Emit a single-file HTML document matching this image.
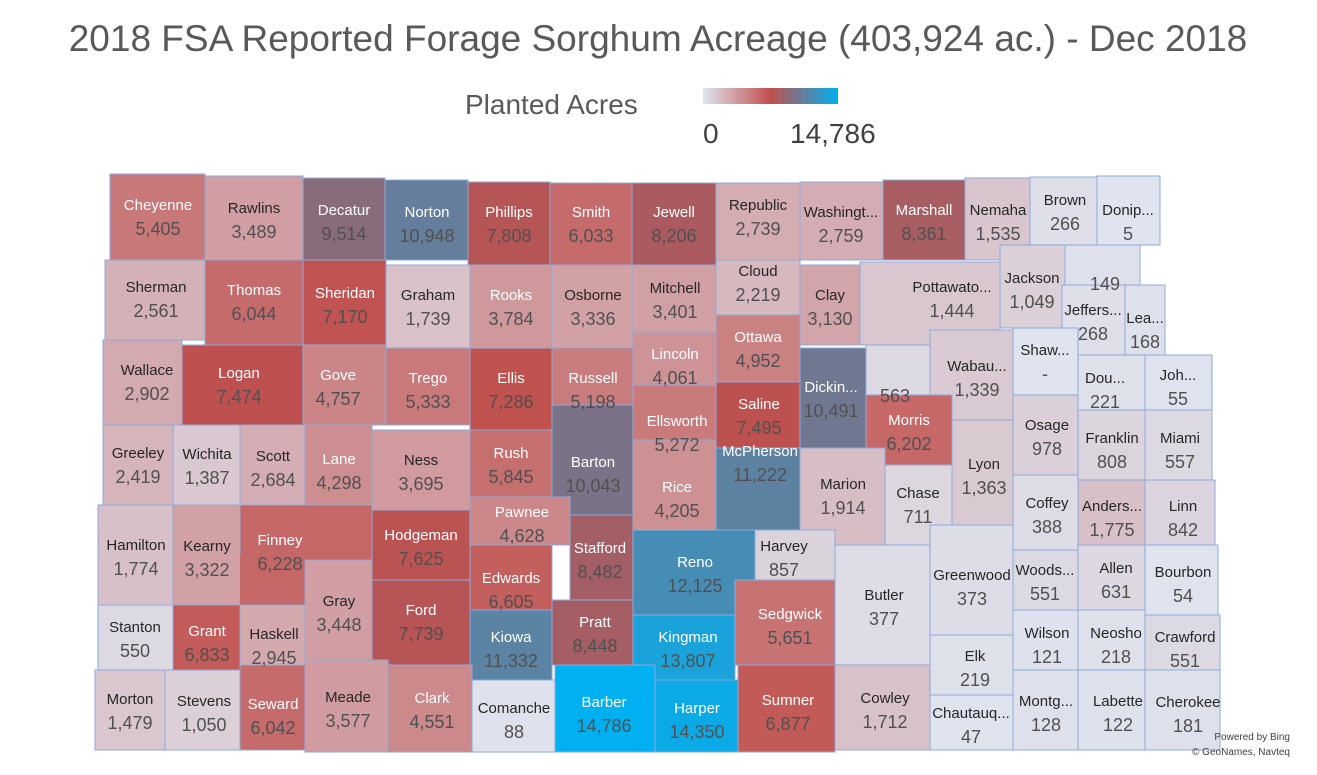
<!DOCTYPE html><html><head><meta charset="utf-8"><style>
body{margin:0;background:#fff;width:1317px;height:770px;overflow:hidden;font-family:"Liberation Sans",sans-serif}
</style></head><body>
<svg id="s" width="1317" height="770" xmlns="http://www.w3.org/2000/svg" font-family="Liberation Sans, sans-serif">
<defs><linearGradient id="g"><stop offset="0" stop-color="#dfe4ef"/><stop offset="0.5" stop-color="#c0504d"/><stop offset="1" stop-color="#00b0f0"/></linearGradient></defs>
<text x="658" y="51" font-size="37" fill="#595959" text-anchor="middle">2018 FSA Reported Forage Sorghum Acreage (403,924 ac.) - Dec 2018</text>
<text x="465" y="114" font-size="28" fill="#595959">Planted Acres</text>
<rect x="703" y="88" width="135" height="16" fill="url(#g)"/>
<text x="703" y="143" font-size="28" fill="#404040">0</text>
<text x="790" y="143" font-size="28" fill="#404040">14,786</text>
<g id="m"></g>
<text x="1290" y="740" font-size="10" fill="#404040" text-anchor="end">Powered by Bing</text>
<text x="1290" y="755" font-size="10" fill="#404040" text-anchor="end">© GeoNames, Navteq</text>
</svg>
<script>
var D=[
["Cheyenne",5405,110,174,205,260,158,205],["Rawlins",3489,205,176,303,260,254,208],["Decatur",9514,303,178,385,260,344,210],["Norton",10948,385,180,468,260,427,212],["Phillips",7808,468,182,550,265,509,212],["Smith",6033,550,183,632,265,591,212],["Jewell",8206,632,183,716,265,674,212],["Republic",2739,716,183,800,260,758,205],["Washingt...",2759,800,182,883,260,841,212],["Marshall",8361,883,180,965,260,924,210],["Nemaha",1535,965,178,1030,260,998,210],["Brown",266,1030,177,1097,245,1065,200],["Donip...",5,1097,176,1160,245,1128,210],
["Sherman",2561,105,260,205,340,156,287],["Thomas",6044,205,260,303,345,254,290],["Sheridan",7170,303,260,386,347,345,293],["Graham",1739,386,265,470,348,428,295],["Rooks",3784,470,265,552,348,511,295],["Osborne",3336,552,265,633,348,593,295],["Mitchell",3401,633,265,716,332,675,288],["Cloud",2219,716,260,800,315,758,271],["Clay",3130,800,265,860,345,830,295],["Ottawa",4952,716,315,800,382,758,337],["Pottawato...",1444,860,262,1000,345,952,287],["Jackson",1049,1000,245,1065,328,1032,278],["",149,1065,245,1140,285,1105,260],["Jeffers...",268,1062,285,1125,358,1093,310],["Lea...",168,1125,285,1165,358,1145,318],
["Wallace",2902,103,340,182,425,147,370],["Logan",7474,182,345,303,425,239,373],["Gove",4757,303,345,386,425,338,375],["Trego",5333,386,348,470,425,428,378],["Ellis",7286,470,348,552,430,511,378],["Russell",5198,552,348,633,405,593,378],["Lincoln",4061,633,332,716,385,675,354],["Ellsworth",5272,633,385,716,440,677,421],["Saline",7495,716,382,800,448,759,404],["Dickin...",10491,800,348,866,448,831,387],["",563,866,345,930,395,895,372],["Wabau...",1339,930,330,1013,420,977,366],["Shaw...",0,1013,328,1078,395,1045,350],["Dou...",221,1078,355,1145,410,1105,378],["Joh...",55,1145,355,1212,410,1178,375],["Morris",6202,866,395,952,465,909,420],
["Greeley",2419,103,425,173,505,138,453],["Wichita",1387,173,425,240,505,207,454],["Scott",2684,240,425,305,505,273,456],["Lane",4298,305,425,372,505,339,459],["Ness",3695,372,430,470,510,421,460],["Rush",5845,470,430,552,497,511,453],["Barton",10043,552,405,633,515,593,462],["Rice",4205,633,440,716,530,677,487],["McPherson",11222,716,448,800,530,760,451],["Marion",1914,800,448,885,545,843,484],["Chase",711,885,465,952,545,918,493],["Lyon",1363,952,420,1013,530,984,464],["Osage",978,1013,395,1078,475,1047,425],["Franklin",808,1078,410,1145,480,1112,438],["Miami",557,1145,410,1212,480,1180,438],
["Hamilton",1774,98,505,173,605,136,545],["Kearny",3322,173,505,240,605,207,546],["Finney",6228,240,505,372,560,280,540],["",6228,240,555,305,606,0,-99],["Hodgeman",7625,372,510,470,580,421,535],["Pawnee",4628,470,497,570,545,522,512],["Stafford",8482,570,515,633,600,600,548],["Edwards",6605,470,545,552,610,511,578],["Reno",12125,633,530,755,615,695,562],["Harvey",857,755,530,835,580,784,546],["Butler",377,835,545,930,665,884,595],["Greenwood",373,930,525,1013,635,972,575],["Coffey",388,1013,475,1078,550,1047,503],["Anders...",1775,1078,480,1145,545,1112,506],["Linn",842,1145,480,1215,545,1183,506],["Gray",3448,305,560,372,660,339,601],["Ford",7739,372,580,470,665,421,610],
["Stanton",550,98,605,173,670,135,627],["Grant",6833,173,605,240,670,207,631],["Haskell",2945,240,605,305,665,274,634],["Kiowa",11332,470,610,552,680,511,637],["Pratt",8448,552,600,633,665,595,622],["Kingman",13807,633,615,735,680,688,637],["Sedgwick",5651,735,580,835,665,790,614],["Woods...",551,1013,550,1078,610,1045,570],["Allen",631,1078,545,1145,610,1116,568],["Bourbon",54,1145,545,1218,615,1183,572],["Elk",219,930,635,1013,695,975,656],["Wilson",121,1013,610,1078,670,1047,633],["Neosho",218,1078,610,1145,670,1116,633],["Crawford",551,1145,615,1220,670,1185,637],
["Morton",1479,95,670,165,750,130,699],["Stevens",1050,165,670,240,750,204,701],["Seward",6042,240,665,305,750,273,704],["Meade",3577,305,660,388,752,348,697],["Clark",4551,388,665,472,752,432,698],["Comanche",88,472,680,555,752,514,708],["Barber",14786,555,665,655,752,604,702],["Harper",14350,655,680,738,752,697,708],["Sumner",6877,738,665,835,752,788,700],["Cowley",1712,835,665,930,750,885,698],["Chautauq...",47,930,695,1013,750,971,713],["Montg...",128,1013,670,1078,750,1046,701],["Labette",122,1078,670,1145,750,1118,701],["Cherokee",181,1145,670,1220,750,1188,702]];
function c(v){var a=[223,228,239],m=[192,80,77],b=[0,176,240],t=v/14786,p,q,u;if(t<.5){p=a;q=m;u=t*2}else{p=m;q=b;u=(t-.5)*2}
return "rgb("+p.map(function(x,i){return Math.round(x+(q[i]-x)*u)}).join(",")+")"}
var h="";D.forEach(function(d){h+='<rect x="'+d[2]+'" y="'+d[3]+'" width="'+(d[4]-d[2])+'" height="'+(d[5]-d[3])+'" fill="'+c(d[1])+'" stroke="'+(d[7]<0?'none':'#8eaadb')+'" stroke-width="1"/>'});
D.forEach(function(d){if(d[7]<0)return;var w=d[1]>3700?"#fff":"#262626";if(d[0])h+='<text x="'+d[6]+'" y="'+(d[7]+5)+'" font-size="15" fill="'+w+'" text-anchor="middle">'+d[0]+'</text>';
var vs=d[1]==0?"-":d[1].toLocaleString("en-US");h+='<text x="'+d[6]+'" y="'+(d[7]+30)+'" font-size="18" fill="#505050" text-anchor="middle">'+vs+'</text>'});
document.getElementById("m").innerHTML=h;
</script></body></html>
